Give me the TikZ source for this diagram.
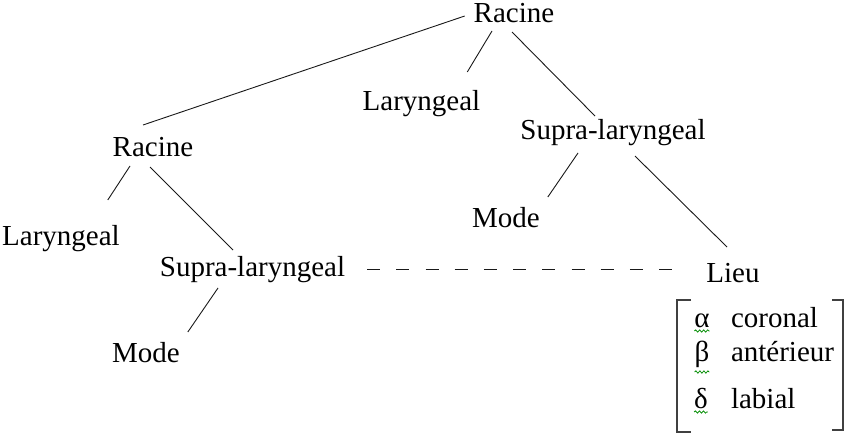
\documentclass[tikz,border=0pt]{standalone}
\usepackage{fontspec}
\setmainfont{Liberation Serif}
\usepackage{tikz}
\usetikzlibrary{calc,positioning,decorations.pathmorphing}

\begin{document}
\begin{tikzpicture}[x=1pt,y=-1pt,
  lbl/.style={font=\fontsize{29}{34}\selectfont,inner sep=0,outer sep=0,
    text height=20pt,text depth=6pt,anchor=base},
  branch/.style={line width=0.9pt,black!90},
  squig/.style={draw=green!55!black,line width=0.8pt,decorate,
    decoration={snake,segment length=4pt,amplitude=1.1pt}}]
  \useasboundingbox (0,0) rectangle (849,433);
  \node[lbl] (rtop) at (514,23) {Racine};
  \node[lbl] (lmid) at (421.5,111) {Laryngeal};
  \node[lbl] (smid) at (613,140) {Supra-laryngeal};
  \node[lbl] (mright) at (506,227) {Mode};
  \node[lbl] (lieu) at (733,282) {Lieu};
  \node[lbl] (rleft) at (153,157) {Racine};
  \node[lbl] (lleft) at (61,245) {Laryngeal};
  \node[lbl] (sleft) at (252.5,276) {Supra-laryngeal};
  \node[lbl] (mleft) at (146,362) {Mode};
  \draw[branch] ([xshift=-9pt]rtop.west) -- ([xshift=-10pt,yshift=12pt]rleft.north);
  \draw[branch] ([xshift=-22pt,yshift=-2pt]rtop.south) -- ([xshift=-13pt,yshift=19pt]lmid.north east);
  \draw[branch] ([xshift=-2pt,yshift=-3pt]rtop.south) -- ([xshift=-18pt,yshift=4pt]smid.north);
  \draw[branch] ([xshift=-35pt,yshift=-7pt]smid.south) -- ([xshift=8pt,yshift=10pt]mright.north east);
  \draw[branch] ([xshift=22pt,yshift=-10pt]smid.south) -- ([xshift=-6pt,yshift=15pt]lieu.north);
  \draw[branch] ([xshift=-23pt,yshift=-3pt]rleft.south) -- ([xshift=-12pt,yshift=25pt]lleft.north east);
  \draw[branch] ([xshift=-3pt,yshift=-4pt]rleft.south) -- ([xshift=-19.5pt,yshift=6pt]sleft.north);
  \draw[branch] ([xshift=-34.5pt,yshift=-6pt]sleft.south) -- ([xshift=8pt,yshift=10pt]mleft.north east);
  \draw[branch,dash pattern=on 13pt off 16.2pt,shorten <=22pt,shorten >=34.5pt]
    (sleft.east) -- (sleft.east -| lieu.west);
  \node[lbl] (alpha) at (702,327) {α};
  \node[lbl] (beta) at (702,361) {β};
  \node[lbl] (delta) at (701,408) {δ};
  \node[lbl,anchor=base west] (coronal) at (731,327) {coronal};
  \node[lbl,anchor=base west] (anterieur) at (731,361) {antérieur};
  \node[lbl,anchor=base west] (labial) at (731,408) {labial};
  \draw[squig] ([yshift=-4pt]alpha.base west) -- ([yshift=-4pt]alpha.base east);
  \draw[squig] ([yshift=-11pt]beta.base west) -- ([yshift=-11pt]beta.base east);
  \draw[squig] ([yshift=-4pt]delta.base west) -- ([yshift=-4pt]delta.base east);
  \draw[line width=1.3pt,black!75] (691,300) -- (677,300) -- (677,432) -- (691,432);
  \draw[line width=1.3pt,black!75] (832,300) -- (843,300) -- (843,430) -- (832,430);
\end{tikzpicture}
\end{document}
